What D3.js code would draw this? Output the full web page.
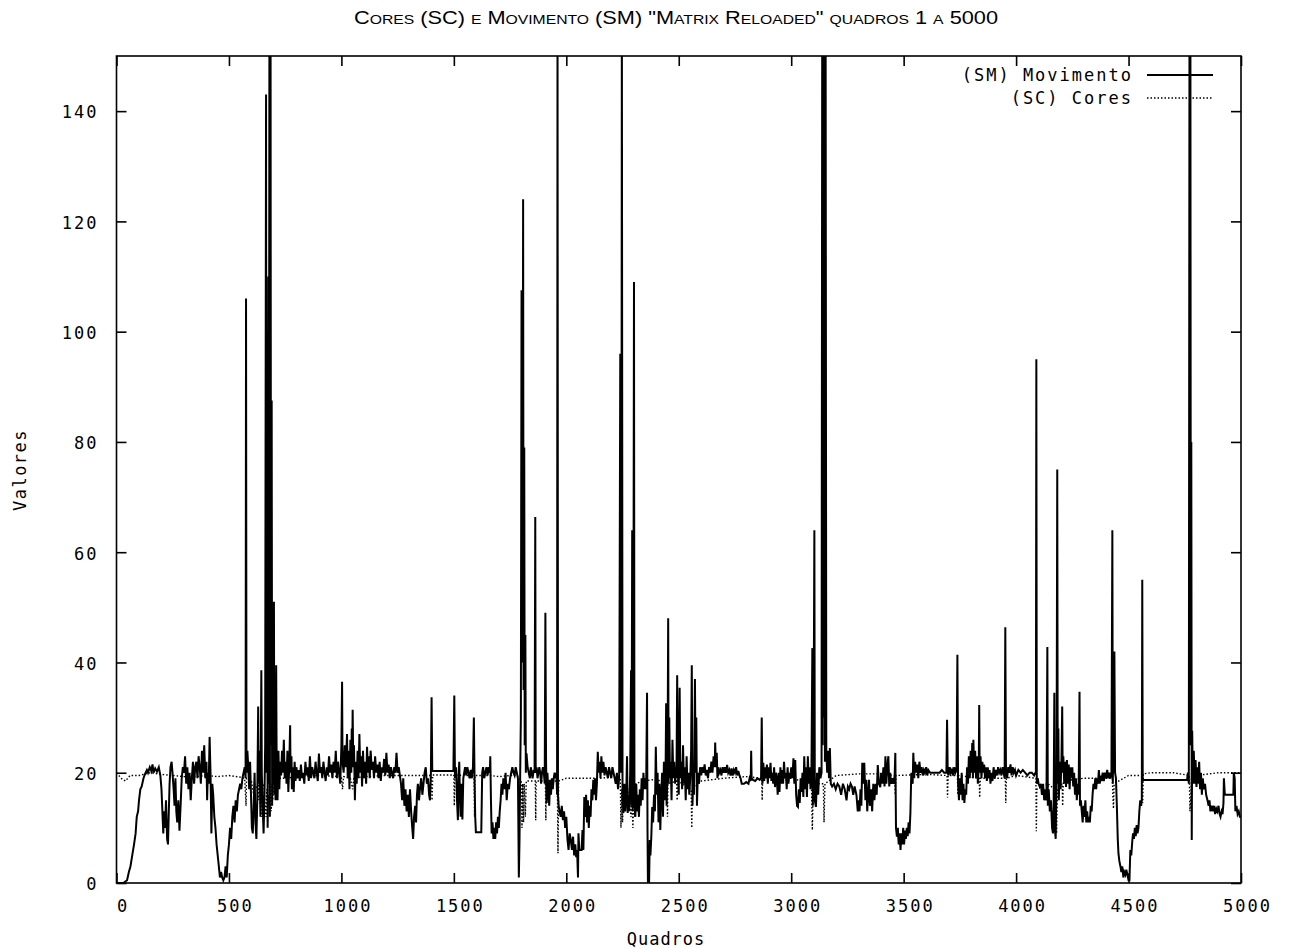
<!DOCTYPE html>
<html><head><meta charset="utf-8">
<script src="https://cdn.jsdelivr.net/npm/d3@7"></script>
<style>body{margin:0;background:#fff}svg{display:block}</style>
</head><body>
<svg id="chart" width="1293" height="948"></svg>
<script>
// ---------- data ----------
const chartTitle = 'Cores (SC) e Movimento (SM) "Matrix Reloaded" quadros 1 a 5000';
const xLabel = "Quadros";
const yLabel = "Valores";
const xTicks = [0, 500, 1000, 1500, 2000, 2500, 3000, 3500, 4000, 4500, 5000];
const yTicks = [0, 20, 40, 60, 80, 100, 120, 140];
const seriesNames = ["(SM) Movimento", "(SC) Cores"];

// (frame, value) pairs - Movimento (SM)
const smPoints = [
[1,0],[30,0],[47,0.5],[55,2],[62,3],[70,5],[78,7],[85,9],[90,12],[96,13],[100,15],[106,17],[112,17.5],[120,19],[127,19.8],[135,20.5],[140,20],[148,21],[155,20.3],[160,21.5],[165,20],[172,20.8],[180,20.2],[188,21],[195,19.5],
[200,17],[205,12],[208,9],[212,13],[216,10],[220,15],[225,8],[229,7],[232,12],[236,18],[240,21],[245,22],[249,20],[254,17],[258,14],[262,19],[266,13],[270,11],[275,15],[280,9.5],[285,14],[290,19],[295,21],[300,20],[305,23],[310,18],[315,21],[320,17],[325,20],[330,15],[335,19],[340,22],[345,18],[350,21],[355,22],[360,19],[365,23],[370,21],[375,18],[380,24],[385,20],[390,25],[395,19],[400,22],[403,15],[406,20],[410,18],[414,26.5],[418,20],[422,9],[426,18],
[430,16],[435,12],[440,10],[445,7],[450,5],[455,3],[460,1],[465,2],[470,1],[475,0.5],[480,1],[485,3],[490,1],[495,5],[500,7],[505,10],[510,8],[515,12],[520,14],[525,11],[530,15],[535,13],[540,16],[545,17],[550,18],[555,17],[560,19],[565,20],[570,21],[574,19],[576,106],[578,20],[582,24],[586,21],[590,17],[594,22],
[598,16],[602,10],[606,9],[610,14],[614,20],[618,11],[622,8],[626,15],[630,32],[632,18],[636,24],[640,12],[644,38.6],[646,20],[650,14],[654,9],[658,16],[661,25],[665,143],[667,20],[670,60],[672,10],[675,110],[677,18],[680,160],[682,12],[685,160],[687,25],[690,87.5],[692,14],[695,40],[697,18],[700,51],[702,16],[705,25],[707,15],[710,39.5],[712,22],[716,15],[720,24],[724,17],[728,22],[732,19.5],[736,24],[740,20],[744,26],[748,19],[752,22],[756,18],[760,24],[764,16.5],[768,21],[772,28.6],[774,20],
[778,23],[780,17],[784,21],[788,16.5],[792,22],[796,18.5],[800,21],[805,19],[810,20.5],[815,18.5],[820,21.5],[825,19],[830,20],[835,18],[840,22],[845,19.5],[850,21],[855,18.5],[860,23],[865,19],[870,21],[875,20],[880,19],[885,22],[890,20],[895,18.5],[900,23.5],[905,20],[910,21],[915,19],[920,22],[925,20],[930,18.5],[935,21],[940,19.5],[945,23],[950,20],[955,21.5],[960,19],[965,22],[970,20],[975,24],[980,19],[985,22],[990,20],[995,18],[1000,25],[1003,36.5],[1005,22],
[1010,20],[1015,25],[1020,21],[1025,27],[1028,19],[1032,24],[1036,17],[1040,26],[1044,20],[1046,28],[1048,22],[1050,31.4],[1053,21],[1056,25],[1060,15],[1064,22],[1068,18],[1072,24],[1076,19],[1080,27],[1084,20],[1088,23],[1092,17.5],[1096,24],[1100,19],[1105,22],[1110,18],[1114,24.7],[1118,20],[1122,23],[1126,19],[1130,24],[1135,20.5],[1140,22],[1145,19],[1150,23],[1155,20],[1160,21.5],[1165,19],[1170,22],[1175,18.5],[1180,21],[1185,20],[1190,22.5],[1195,19.5],[1200,23.6],[1205,20],[1210,21.5],[1215,19],[1220,21],[1225,20],[1230,19],[1235,21],[1240,20],[1245,23.6],[1250,20],[1255,21],[1260,19.5],
[1265,18],[1270,15],[1275,19],[1280,14],[1285,17],[1290,13],[1295,16],[1300,12],[1305,17],[1310,13],[1315,10],[1319,8],[1323,12],[1328,14],[1332,11],[1336,16],[1340,18],[1345,15],[1350,17.4],[1355,19],[1360,16],[1365,18],[1370,20],[1375,21],[1380,18],[1385,19],[1390,16],[1394,15],[1398,20],[1401,33.7],[1404,20.3],[1495,20.3],
[1498,20.3],[1502,34],[1505,19],[1510,21],[1514,15],[1518,11.4],[1521,19],[1524,22],[1527,16],[1530,12],[1534,18],[1538,11.5],[1542,19],[1546,20],[1550,21],[1555,19.5],[1560,21],[1565,20],[1570,19],[1575,20.5],[1580,19],[1585,21],[1589,30],[1592,19],[1595,12],[1598,9.2],[1622,9.2],[1626,20],[1630,21],[1635,19],[1640,20],[1645,21],[1650,19.5],[1655,21],[1660,20],[1662,23],[1665,15],[1668,9],[1672,11],[1676,8],[1680,10],[1684,8],[1688,11],[1692,9],[1696,12],[1700,10],[1704,13],
[1708,15],[1712,18],[1716,16],[1720,19],[1725,17],[1730,20],[1735,15],[1740,18],[1745,17],[1750,19],[1755,20],[1760,21],[1765,20],[1770,19.5],[1775,21],[1780,20],[1785,19],[1789,1],[1792,8],[1795,20],[1798,30],[1801,107.5],[1803,40],[1806,60],[1808,124],[1810,35],[1813,79],[1815,25],[1818,45],[1820,20],[1823,23.5],[1828,21],[1833,20],[1838,19],[1842,21],[1846,20],[1850,19],[1855,20.5],[1859,20],[1862,66.4],[1864,20],[1868,21],[1872,19],[1876,20],[1880,21],[1884,20],[1888,18],[1892,20],[1896,21],[1900,20],[1904,18],[1907,49],[1910,22],[1913,14.5],[1916,20],[1920,17],[1924,14],[1928,18.7],[1932,16],[1936,19],[1940,17],[1944,19],[1948,20],[1952,19],[1956,20],[1959,16],[1961,160],[1963,16],
[1966,14],[1970,13],[1975,12],[1980,14],[1985,11.4],[1990,13],[1995,10],[2000,12],[2005,8],[2010,6],[2015,9],[2020,7.8],[2025,6],[2030,8.4],[2035,5],[2040,7],[2044,4.7],[2048,6],[2052,1],[2054,9],[2058,6],[2068,6],[2072,9.6],[2076,6],[2080,15.6],[2084,12],[2088,16],[2092,11],[2096,15],[2100,10],[2104,14],[2108,12],[2112,17],[2116,15],[2120,18.7],[2124,16],[2128,19],[2132,15],[2136,18],[2140,23.8],[2144,20],[2148,22],[2152,19],[2156,23],[2160,20],[2165,22],[2170,19.5],[2175,21],[2180,20],[2185,19],[2190,21],[2195,20],[2200,19],[2205,21],[2210,20],[2215,19],[2220,18],[2225,20],[2230,17],[2235,19],
[2240,96],[2242,20],[2245,40],[2247,160],[2250,16],[2254,12.7],[2258,18],[2262,13],[2266,15],[2270,23],[2273,12.7],[2277,16],[2280,13],[2284,20],[2288,38.6],[2290,14],[2293,64],[2295,13],[2298,30],[2301,109],[2303,15],[2307,12],[2311,18],[2315,13],[2319,16],[2323,12],[2327,17],[2331,14],[2335,19],[2339,15],[2343,20],[2347,17],[2351,19],[2355,17],[2359,34.5],[2361,10],[2363,0],[2368,0],[2371,7.8],[2374,5],[2378,8.4],[2382,13.8],[2386,11],[2390,16],[2394,13],[2398,24.7],[2402,16],[2406,20],[2410,11],[2414,18],[2418,9.6],[2422,16],[2426,20],[2430,12],[2434,22],[2438,15],[2441,18],[2444,32.6],[2446,14],[2450,20],[2453,48],[2455,18],[2458,30],[2461,19],[2464,22],[2468,15],[2472,26],[2476,19],[2480,22],[2484,18],[2488,21],[2490,19],[2493,37.7],[2496,20],[2500,16],[2504,35.4],[2507,19],[2511,22],[2515,17],[2519,25],[2523,18],[2527,21],[2531,15],[2535,23],[2539,17],[2543,20],[2547,16],[2551,19],[2555,24],[2558,39.5],[2561,14],[2565,20],[2568,16],[2572,37],[2575,20],[2578,30],[2581,14],[2585,20],[2590,18],
[2595,21],[2600,19.5],[2605,21],[2610,20],[2615,21.5],[2620,19.5],[2625,20.5],[2630,19],[2635,21],[2640,20],[2645,22],[2650,20],[2655,23],[2660,21],[2662,25.5],[2665,21],[2669,23.6],[2672,19],[2676,21],[2680,20],[2685,20.5],[2690,19.5],[2695,21],[2700,20],[2705,21],[2710,20],[2715,21.4],[2720,20],[2725,20.5],[2730,19.5],[2735,20.8],[2740,19.5],[2745,20.5],[2750,20],[2755,21],[2760,19.5],[2765,20.3],[2770,19.5],[2775,19],[2780,18],[2790,18],[2800,18.3],[2810,18],[2815,19],[2820,18.5],[2822,24],[2824,19],[2830,18.7],[2840,18.5],[2850,19],[2860,18.7],[2866,19],[2869,30],[2872,18],[2876,21.8],[2880,18.5],[2884,21],[2888,19],[2892,21.5],[2896,18],[2900,21],[2904,19],[2908,21.8],[2912,18.5],[2916,20],[2920,18],[2924,21],[2928,17.4],[2932,20],[2936,19],[2940,16],[2944,20],[2948,16.5],[2952,21],[2956,18],[2960,20.5],[2964,18],[2968,22],[2972,19],[2976,20],[2980,17],[2984,21],[2988,18],[2992,20],[2996,19],[3000,21],[3005,19],[3010,22.6],[3014,18],[3018,22.3],[3022,16],[3026,14],[3030,13.8],[3034,17],[3038,14.5],[3042,19],[3046,16.5],[3050,20],[3054,15.6],[3058,23],[3062,17],[3066,21],[3070,15.6],[3074,23],[3078,18],[3082,21],[3086,17],[3090,20],
[3094,42.6],[3096,14],[3099,20],[3103,64],[3105,15],[3110,13.8],[3115,20],[3120,16],[3125,21],[3130,19],[3135,20],[3138,160],[3140,25],[3143,160],[3145,30],[3148,160],[3150,22],[3153,160],[3156,24],[3160,20],[3164,24],[3168,19],[3172,24.5],[3176,18],[3182,17.5],[3190,18],[3198,17],[3206,18],[3214,17.5],[3222,16],[3230,18],[3238,17],[3246,15],[3252,17.5],[3258,17],[3264,18],[3270,17.5],[3276,16],[3282,17.5],[3290,16],[3296,13],[3300,15],[3304,13],[3308,17],[3312,14],[3316,21.8],[3320,18],[3325,21.8],[3330,15],[3334,18.7],[3338,13],[3342,16],[3346,18.7],
[3350,14],[3355,17],[3360,13],[3365,18],[3370,15],[3375,18],[3380,16],[3385,21.4],[3390,18],[3396,17.4],[3400,20],[3405,18],[3410,21],[3415,17.5],[3419,23],[3423,18],[3427,21],[3432,23],[3436,17.5],[3440,20],[3445,18],[3450,19],[3455,18],[3460,19.5],[3463,23.6],[3466,10],[3470,8.4],[3474,10],[3478,7],[3482,9],[3486,6],[3490,9],[3494,7],[3498,10],[3502,7],[3506,9.5],[3510,8],[3514,10],[3518,8.5],[3522,11],[3526,9],[3530,12.7],[3534,20],[3540,18],[3543,23.6],[3547,19],[3551,22],[3555,20],[3560,21.5],[3565,19],[3570,22],[3575,20],[3580,21],[3585,19.5],[3590,20.5],[3595,20],[3600,21],[3605,19.5],[3610,20.5],[3618,20],[3630,20],[3640,20],[3650,20],[3660,20],[3670,20.5],[3680,20],[3690,20],[3693,29.6],[3696,20],
[3700,19.5],[3705,21],[3710,20],[3715,20.5],[3720,19.5],[3725,21],[3730,20],[3735,20.5],[3739,41.4],[3742,18],[3746,15],[3750,19],[3754,16],[3758,20],[3762,15],[3766,18],[3770,14.5],[3774,17],[3778,16],[3782,21],[3786,18],[3790,23],[3794,19],[3798,24],[3802,20],[3805,25.4],[3808,19],[3810,26],[3814,20],[3818,24],[3822,19],[3826,23],[3830,18],[3834,21],[3836,32.3],[3838,20],[3842,23],[3846,19],[3850,22],[3854,20],[3858,21.5],[3862,19],[3866,21],[3870,18.5],[3874,21],[3878,19],[3882,20.5],[3886,18],[3890,20],[3895,18.5],[3900,21],[3905,19],[3910,20.5],[3915,19.5],[3920,21],[3925,20],[3930,20.5],[3935,19.5],[3940,21],[3945,20],[3949,19],[3952,46.4],[3955,20],[3960,19],[3965,21],[3970,20],[3975,21.5],[3980,19.5],[3985,21],[3990,20],[3995,20.5],[4000,19.5],[4010,20.5],[4020,20],[4030,20.5],[4040,20],[4050,19.5],[4060,20],[4070,20],[4080,19.5],[4086,20],
[4088,20],[4090,95],[4092,18],[4096,19],[4100,18],[4105,17.5],[4110,18],[4115,16],[4120,18],[4125,15],[4130,17],[4135,15],[4139,42.8],[4141,14],[4145,17],[4150,13],[4155,15],[4160,10],[4164,9],[4167,14],[4170,34.5],[4172,10],[4176,8],[4180,20],[4183,75],[4185,18],[4188,28],[4190,15],[4194,22],[4198,17],[4202,23],[4205,32],[4207,20],[4210,23],[4214,18],[4218,22],[4222,17.4],[4226,22.3],[4230,18],[4234,21.5],[4238,17],[4242,21],[4246,19],[4250,21],[4254,17.5],[4258,20],[4262,16],[4266,19],[4270,15],[4274,18],[4278,16],[4282,34.7],[4284,14],[4288,15],
[4292,13],[4296,11],[4300,14],[4304,12],[4308,15],[4312,11],[4316,13],[4320,11],[4324,12],[4328,11],[4332,14],[4336,13],[4340,16],[4344,18],[4348,17],[4352,19],[4356,17],[4360,19],[4364,18],[4368,20.5],[4372,18],[4376,19.5],[4380,18.5],[4385,20],[4390,18.5],[4395,20],[4400,19],[4405,20.5],[4410,19],[4415,20],[4420,19],[4424,20],[4428,64],[4430,18],[4433,30],[4435,20],[4437,42],[4440,20],[4444,19],[4448,14],[4452,8],[4455,5.4],[4459,4],[4464,3],[4468,2],[4472,3],[4477,1],[4481,2],[4486,1.5],[4490,2.4],[4495,1.5],[4500,0.5],[4504,0.5],[4508,6],[4512,5],[4517,7.8],[4520,9],[4524,8],[4528,10],[4532,8.5],[4536,10.5],[4540,9],[4544,10],[4548,13],[4552,15],[4556,14],[4559,15],
[4561,55],[4563,18.7],[4760,18.7],[4764,20],[4768,18],[4771,160],[4773,30],[4775,160],[4777,25],[4779,80],[4781,7.8],[4783,27.6],[4786,18],[4790,24],[4794,18],[4798,22.3],[4802,17.4],[4806,21],[4810,18],[4814,22],[4818,17],[4822,20],[4826,16],[4830,19],[4835,17],[4840,18],[4845,16],[4851,15],[4856,14],[4860,15],[4864,13],[4870,14],[4875,13],[4880,14],[4885,12.5],[4890,13.5],[4895,13],[4900,14],[4905,12.5],[4909,12],[4914,13],[4918,12.5],[4922,14.5],[4924,19],[4928,16],[4940,16],[4966,16],[4968,20],[4972,19],[4975,13],[4980,14],[4985,12.5],[4990,13],[4995,12],[5000,12]
];

// (frame, value) pairs - Cores (SC)
const scPoints = [
[1,20],[20,19],[40,18.5],[60,19.5],[100,19.5],[150,20],[200,19.7],[250,19.5],[300,19.3],[350,19.3],[400,19.5],[450,19.3],[500,19.5],[550,19.2],[570,19],[576,14],[578,19],[600,18.5],[610,16],[614,18],[626,17],[630,15],[632,18],[640,14],[645,12],[648,17],[655,18],[660,14],[665,12],[668,17],[672,11],[675,16],[680,12],[684,18],[688,13],[692,18],[695,15],[700,18.5],[720,19],[760,19],[800,19.3],[900,19.5],[1000,19.3],[1005,17],[1010,19.3],[1040,19],[1050,17],[1055,19],[1100,19.3],[1200,19.5],[1300,19.5],[1400,19.5],[1403,15],[1406,19.6],[1500,19.6],[1502,14],[1505,19.6],[1560,19.5],[1590,19.5],[1592,12],[1594,19.5],[1660,19.5],[1700,19.3],[1780,19.6],[1800,18.5],[1803,10],[1806,18],[1810,11],[1813,18],[1818,12],[1822,18.5],[1862,18.5],[1864,11.4],[1866,18.5],[1907,18.5],[1909,11.4],[1911,18.5],[1960,18.5],[1963,5.4],[1966,18.5],[2000,19],[2100,19],[2150,19],[2200,19.2],[2240,19],[2243,10],[2247,17],[2250,11],[2256,17],[2270,18],[2288,12],[2292,17],[2296,10],[2300,16],[2304,12],[2310,18],[2340,18.5],[2400,18.8],[2448,18],[2450,12],[2452,18],[2490,18.5],[2493,15],[2496,18.5],[2555,17],[2558,10],[2561,17],[2600,18.5],[2700,19],[2800,19.3],[2869,19],[2871,15],[2873,19],[2900,19.2],[3000,19],[3090,18],[3094,9.6],[3098,17],[3103,15],[3107,18],[3143,18],[3146,11],[3150,18],[3200,19.5],[3300,19.8],[3400,19.8],[3460,19.5],[3463,16],[3466,19.5],[3600,19.7],[3693,19.5],[3695,15.5],[3698,19.5],[3739,19.5],[3741,16],[3744,19.5],[3836,19],[3838,15.5],[3841,19],[3952,19],[3954,14.5],[3957,19],[4000,19.5],[4088,19],[4090,9.4],[4092,17],[4137,18],[4139,15],[4142,18],[4170,17],[4173,10],[4177,16],[4180,9],[4184,17],[4205,18],[4207,14],[4210,18.5],[4300,19],[4428,19],[4430,16],[4433,13.5],[4436,18],[4500,19.5],[4561,19.5],[4563,14.5],[4566,19.8],[4600,20],[4700,20],[4770,19.5],[4773,13],[4777,15.5],[4780,19],[4800,19.5],[4900,20],[5000,20]
];

// ---------- drawing ----------
const W = 1293, H = 948;
const plot = {left: 116.5, right: 1241, top: 56, bottom: 883};
const svg = d3.select("#chart");
const x = d3.scaleLinear().domain([0, 5000]).range([plot.left, plot.right]);
const y = d3.scaleLinear().domain([0, 150]).range([plot.bottom, plot.top]);
const tickFont = "'DejaVu Sans Mono', monospace";

svg.append("rect").attr("width", W).attr("height", H).attr("fill", "#fff");

svg.append("defs").append("clipPath").attr("id", "clip")
  .append("rect").attr("x", plot.left).attr("y", plot.top)
  .attr("width", plot.right - plot.left).attr("height", plot.bottom - plot.top);

// title
svg.append("text")
  .attr("x", 676).attr("y", 24)
  .attr("text-anchor", "middle")
  .attr("font-family", "'Liberation Sans', Arial, sans-serif")
  .attr("font-size", 18)
  .style("font-variant", "small-caps")
  .attr("textLength", 644).attr("lengthAdjust", "spacingAndGlyphs")
  .text(chartTitle);

// axes (gnuplot style: inward ticks, mirrored)
const tickLen = 10;
const axB = d3.axisBottom(x).tickValues(xTicks).tickSize(-tickLen).tickPadding(20).tickFormat(d3.format("d"));
const axT = d3.axisTop(x).tickValues(xTicks).tickSize(-tickLen).tickFormat("");
const axL = d3.axisLeft(y).tickValues(yTicks).tickSize(-tickLen).tickPadding(18).tickFormat(d3.format("d"));
const axR = d3.axisRight(y).tickValues(yTicks).tickSize(-tickLen).tickFormat("");

function styleAxis(g) {
  g.select(".domain").remove();
  g.selectAll(".tick line").attr("stroke", "#000").attr("stroke-width", 1.6);
  g.selectAll(".tick text").attr("fill", "#000").attr("font-family", tickFont)
    .attr("font-size", 17).attr("letter-spacing", "2px");
}
svg.append("g").attr("transform", `translate(0,${plot.bottom})`).call(axB).call(styleAxis)
  .selectAll(".tick text").attr("dx", 6).attr("dy", "0.5em");
svg.append("g").attr("transform", `translate(0,${plot.top})`).call(axT).call(styleAxis);
svg.append("g").attr("transform", `translate(${plot.left},0)`).call(axL).call(styleAxis)
  .selectAll(".tick text").attr("dy", "0.4em");
svg.append("g").attr("transform", `translate(${plot.right},0)`).call(axR).call(styleAxis);

// frame
svg.append("rect").attr("x", plot.left).attr("y", plot.top)
  .attr("width", plot.right - plot.left).attr("height", plot.bottom - plot.top)
  .attr("fill", "none").attr("stroke", "#000").attr("stroke-width", 1.6);

// axis labels
svg.append("text").attr("x", 666).attr("y", 945).attr("text-anchor", "middle")
  .attr("font-family", tickFont).attr("font-size", 17).attr("letter-spacing", "1px").text(xLabel);
svg.append("text").attr("transform", "translate(26,470) rotate(-90)").attr("text-anchor", "middle")
  .attr("font-family", tickFont).attr("font-size", 17).attr("letter-spacing", "1.5px").text(yLabel);

// data
const line = d3.line().x(d => x(d[0])).y(d => y(d[1]));
const gData = svg.append("g").attr("clip-path", "url(#clip)");
gData.append("path").datum(scPoints).attr("d", line)
  .attr("fill", "none").attr("stroke", "#000").attr("stroke-width", 1.4).attr("stroke-dasharray", "1.5,2");
gData.append("path").datum(smPoints).attr("d", line)
  .attr("fill", "none").attr("stroke", "#000").attr("stroke-width", 2).attr("stroke-linejoin", "miter");

// legend
const legY = [75, 98];
const leg = svg.append("g");
seriesNames.forEach((name, i) => {
  leg.append("text").attr("x", 1133).attr("y", legY[i]).attr("dy", "0.35em")
    .attr("text-anchor", "end").attr("font-family", tickFont).attr("font-size", 17)
    .attr("letter-spacing", "2px").text(name);
  leg.append("line").attr("x1", 1147).attr("x2", 1213).attr("y1", legY[i]).attr("y2", legY[i])
    .attr("stroke", "#000").attr("stroke-width", i === 0 ? 2 : 1.4)
    .attr("stroke-dasharray", i === 0 ? null : "1.5,2");
});
</script>
</body></html>
